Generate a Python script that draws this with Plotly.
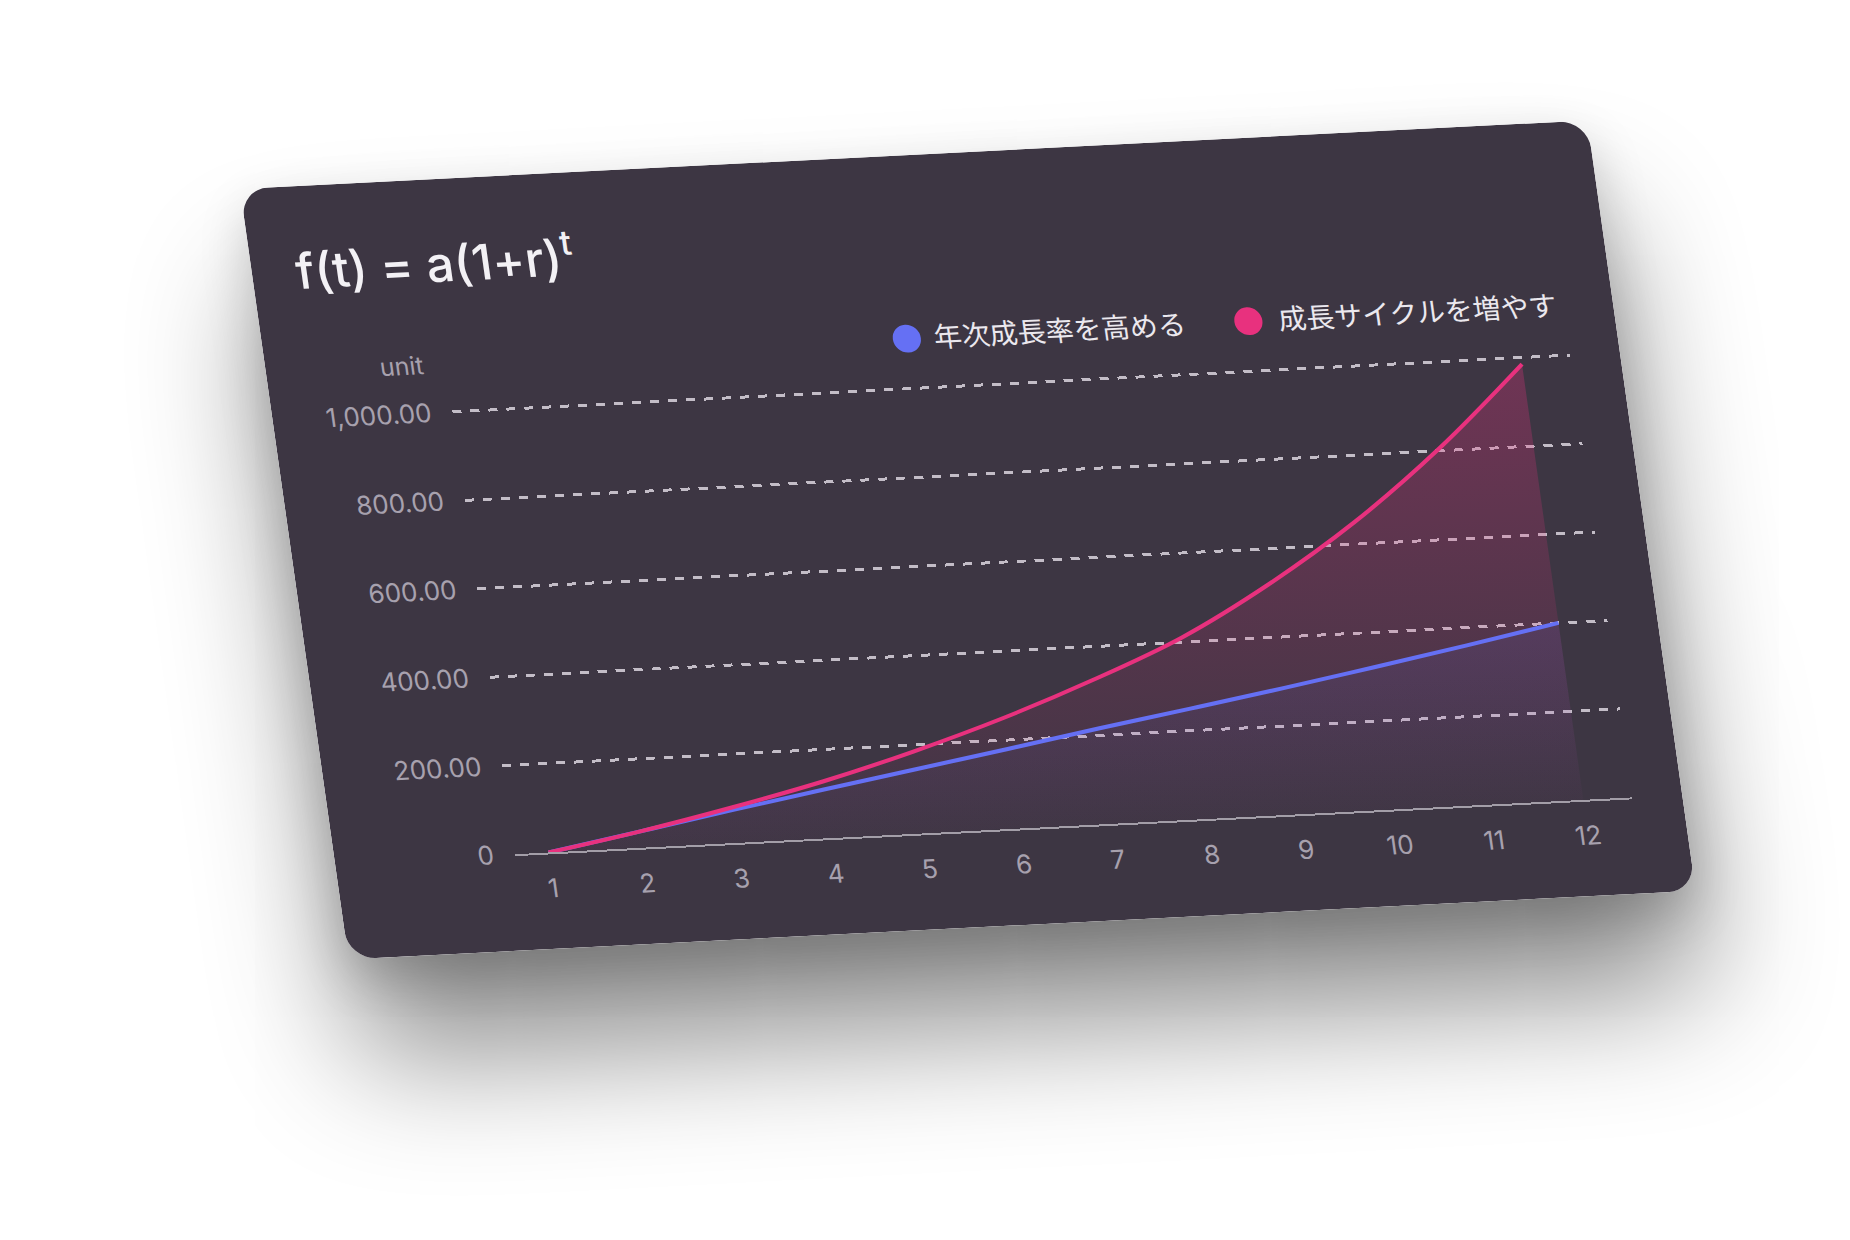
import plotly.graph_objects as go

# data
t_values = list(range(1, 13))
growth_rate = [0, 37, 74, 110, 145, 180, 216, 250, 285, 322, 360, 400]
growth_cycles = [0, 37, 80, 128, 185, 250, 325, 410, 520, 650, 805, 985]
series_names = ["年次成長率を高める", "成長サイクルを増やす"]
y_ticks = [0, 200, 400, 600, 800, 1000]
y_labels = ["0", "200.00", "400.00", "600.00", "800.00", "1,000.00"]

BLUE = "#6570f4"
PINK = "#e8317e"
CARD = "#3d3643"

# card size and plot area (px, card coordinates); y range runs to 1050
W, H = 1349, 778
L, R, T, B = 180, 50, 212, 97


def paper_x(px):
    return (px - L) / (W - L - R)


def paper_y(py):
    return (H - B - py) / (H - T - B)


fig = go.Figure()

# gradient fills first so the lines stay on top
fig.add_trace(go.Scatter(
    x=t_values, y=growth_cycles, mode="none", fill="tozeroy",
    line=dict(shape="spline", width=0),
    fillgradient=dict(type="vertical", start=0, stop=1000,
                      colorscale=[[0, "rgba(232,49,126,0.02)"], [1, "rgba(232,49,126,0.30)"]]),
    showlegend=False, hoverinfo="skip"))
fig.add_trace(go.Scatter(
    x=t_values, y=growth_rate, mode="none", fill="tozeroy",
    line=dict(shape="spline", width=0),
    fillgradient=dict(type="vertical", start=0, stop=400,
                      colorscale=[[0, "rgba(101,112,244,0.01)"], [1, "rgba(101,112,244,0.11)"]]),
    showlegend=False, hoverinfo="skip"))

fig.add_trace(go.Scatter(x=t_values, y=growth_rate, mode="lines", name=series_names[0],
                         line=dict(color=BLUE, width=4, shape="spline"), showlegend=False))
fig.add_trace(go.Scatter(x=t_values, y=growth_cycles, mode="lines", name=series_names[1],
                         line=dict(color=PINK, width=4, shape="spline"), showlegend=False))

# legend drawn by hand (dots are bigger than plotly's legend allows)
legend_items = [(series_names[0], BLUE, 642, 667), (series_names[1], PINK, 984, 1012)]
for name, color, dot_x, text_x in legend_items:
    fig.add_shape(type="circle", xref="paper", yref="paper",
                  xsizemode="pixel", ysizemode="pixel",
                  xanchor=paper_x(dot_x), yanchor=paper_y(184),
                  x0=-14, x1=14, y0=-14, y1=14,
                  fillcolor=color, line=dict(width=0))
    fig.add_annotation(text=name, xref="paper", yref="paper",
                       x=paper_x(text_x), y=paper_y(182), xanchor="left", yanchor="middle",
                       showarrow=False,
                       font=dict(family="Noto Sans CJK JP", size=28, color="#ebe8ee"))

fig.add_annotation(text="unit", xref="paper", yref="paper",
                   x=paper_x(160), y=paper_y(186), xanchor="right", yanchor="middle",
                   showarrow=False, font=dict(size=25, color="#a7a1ae"))

fig.update_layout(
    width=W, height=H, autosize=False,
    margin=dict(l=L, r=R, t=T, b=B),
    paper_bgcolor=CARD, plot_bgcolor=CARD,
    font=dict(family="Inter, Noto Sans CJK JP", color="#a7a1ae"),
    title=dict(text="f(t) = a(1+r)<sup>t</sup>", xref="container", yref="container",
               x=44 / W, xanchor="left", y=1 - 86 / H, yanchor="middle",
               font=dict(size=49, color="#f3f1f5", weight=500)),
    showlegend=False,
    hovermode=False,
)

fig.update_xaxes(range=[0.64, 12.52], tickvals=t_values, showgrid=False, zeroline=False,
                 showline=True, linecolor="#a39ea8", linewidth=2,
                 ticks="", ticklabelstandoff=12,
                 tickfont=dict(size=26, color="#a7a1ae"))
fig.update_yaxes(range=[0, 1050], tickvals=y_ticks, ticktext=y_labels,
                 showgrid=True, gridcolor="rgba(218,213,222,0.85)", gridwidth=2.6,
                 griddash="9px,9px", zeroline=False, showline=False,
                 ticks="", ticklabelstandoff=20,
                 tickfont=dict(size=26, color="#a7a1ae"))

# tilt the card like the reference and give it a soft shadow
post = """
var gd = document.getElementById('{plot_id}');
document.body.style.margin = '0';
document.body.style.background = '#ffffff';
document.body.style.overflow = 'hidden';
gd.style.position = 'absolute';
gd.style.left = '240px';
gd.style.top = '189px';
gd.style.transformOrigin = '0 0';
gd.style.transform = 'matrix(0.99871,-0.05079,0.13944,0.99023,0,0)';
gd.style.borderRadius = '28px';
gd.style.overflow = 'hidden';
gd.style.boxShadow = '0 100px 130px rgba(0,0,0,0.45), 0 20px 50px rgba(0,0,0,0.18)';
"""

fig.write_html("out.html", config={"displayModeBar": False}, post_script=post)
